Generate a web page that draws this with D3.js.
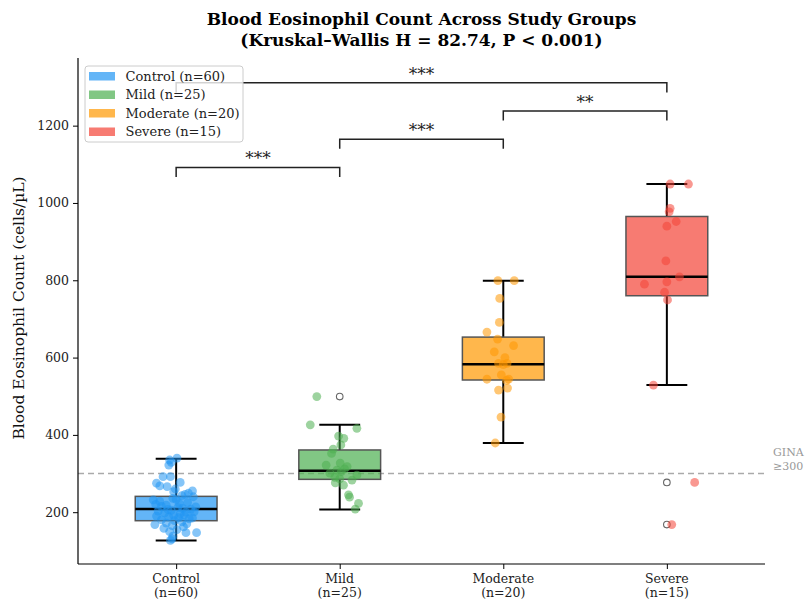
<!DOCTYPE html>
<html>
<head>
<meta charset="utf-8">
<script src="https://cdn.jsdelivr.net/npm/d3@7"></script>
<style>
  body { margin: 0; background: #fff; }
  svg { font-family: "DejaVu Serif", serif; }
</style>
</head>
<body>
<svg id="chart" width="807" height="603"></svg>
<script>
// Study groups and their sizes
const categories = ["Control", "Mild", "Moderate", "Severe"];
const groupSizes = [60, 25, 20, 15];
const groupColors = ["#2196F3", "#4CAF50", "#FF9800", "#F44336"];

// Box summary per group (cells/µL)
const q1Values = [178, 285, 542, 760];
const medianValues = [208, 307, 583, 809];
const q3Values = [241, 361, 653, 965];
const whiskerLow = [127, 207, 379, 529];
const whiskerHigh = [338, 426, 799, 1049];
const outlierValues = [[], [499], [], [277, 168]];

// Individual observations: [value, horizontal jitter in category units]
const controlPoints = [
  [340, 0.005], [335, -0.04], [322, -0.045], [329, -0.03], [292, -0.08], [292, -0.035],
  [275, -0.12], [268, -0.10], [266, -0.055], [277, 0.025], [253, -0.015], [249, 0.075],
  [240, 0.105], [232, -0.14], [236, -0.02], [243, 0.035], [225, 0.07], [222, 0.02],
  [218, -0.06], [215, -0.09], [212, 0.01], [210, 0.04], [208, 0.09], [205, -0.03],
  [203, -0.11], [200, 0.06], [198, -0.07], [196, 0.025], [193, 0.05], [190, -0.12],
  [188, -0.045], [186, 0.015], [183, 0.08], [180, -0.09], [178, -0.01], [175, 0.035],
  [172, -0.06], [170, 0.065], [168, -0.13], [165, -0.025], [162, 0.045], [158, -0.075],
  [155, 0.005], [150, -0.04], [147, 0.06], [147, 0.125], [138, -0.02], [127, -0.035],
  [131, -0.025], [255, 0.10], [260, -0.005], [228, -0.10], [246, 0.055], [214, 0.12],
  [220, -0.125], [201, 0.11], [185, 0.10], [192, -0.015], [207, -0.05], [233, 0.0]
];
const mildPoints = [
  [499, -0.14], [426, -0.18], [417, 0.105], [397, -0.007], [391, 0.025], [374, 0.007],
  [363, -0.04], [352, -0.05], [327, 0.003], [322, -0.083], [309, -0.017], [301, -0.06],
  [305, 0.01], [296, 0.105], [312, 0.03], [283, 0.075], [276, -0.027], [270, 0.023],
  [245, 0.054], [239, 0.06], [223, 0.115], [208, 0.095], [290, -0.03], [318, 0.045],
  [286, 0.0]
];
const moderatePoints = [
  [799, -0.033], [799, 0.067], [753, -0.022], [691, -0.024], [666, -0.10], [648, -0.035],
  [631, 0.063], [615, -0.055], [585, -0.029], [585, 0.023], [582, 0.0], [555, -0.012],
  [544, -0.10], [544, 0.033], [541, 0.02], [516, -0.029], [521, 0.026], [446, -0.014],
  [379, -0.049], [600, 0.01]
];
const severePoints = [
  [1049, 0.02], [1049, 0.132], [986, 0.02], [977, 0.014], [952, 0.057], [940, 0.0],
  [850, -0.006], [809, 0.077], [790, -0.137], [796, 0.0], [769, -0.014], [749, 0.004],
  [529, -0.082], [277, 0.17], [168, 0.03]
];
const groupPoints = [controlPoints, mildPoints, moderatePoints, severePoints];

// Pairwise significance: [from group, to group, bracket height, stars]
const comparisons = [
  [0, 1, 1092, "***"],
  [1, 2, 1165, "***"],
  [2, 3, 1238, "**"],
  [0, 3, 1311, "***"]
];
const yTicks = [200, 400, 600, 800, 1000, 1200];
const ginaThreshold = 300;

const svg = d3.select("#chart");
const plot = { left: 78, right: 765, top: 58, bottom: 564 };

const x = d3.scaleLinear().domain([-0.6, 3.6]).range([plot.left, plot.right]);
const y = d3.scaleLinear().domain([66, 1375]).range([plot.bottom, plot.top]);
const boxHalf = 0.25, capHalf = 0.125;

// GINA eosinophilic threshold
svg.append("line")
  .attr("x1", plot.left).attr("x2", plot.right)
  .attr("y1", y(ginaThreshold)).attr("y2", y(ginaThreshold))
  .attr("stroke", "#aaaaaa").attr("stroke-width", 1.4)
  .attr("stroke-dasharray", "6,4");
svg.append("text").attr("x", 773).attr("y", y(ginaThreshold) - 18)
  .attr("font-size", 11).attr("fill", "#999").text("GINA");
svg.append("text").attr("x", 773).attr("y", y(ginaThreshold) - 4)
  .attr("font-size", 11).attr("fill", "#999").text("≥300");

// Boxes
categories.forEach((c, i) => {
  const g = svg.append("g");
  // whiskers
  g.append("line").attr("x1", x(i)).attr("x2", x(i))
    .attr("y1", y(q3Values[i])).attr("y2", y(whiskerHigh[i]))
    .attr("stroke", "#000").attr("stroke-width", 2);
  g.append("line").attr("x1", x(i)).attr("x2", x(i))
    .attr("y1", y(q1Values[i])).attr("y2", y(whiskerLow[i]))
    .attr("stroke", "#000").attr("stroke-width", 2);
  [whiskerHigh[i], whiskerLow[i]].forEach(v => {
    g.append("line").attr("x1", x(i - capHalf)).attr("x2", x(i + capHalf))
      .attr("y1", y(v)).attr("y2", y(v))
      .attr("stroke", "#000").attr("stroke-width", 2);
  });
  // box
  g.append("rect")
    .attr("x", x(i - boxHalf)).attr("width", x(i + boxHalf) - x(i - boxHalf))
    .attr("y", y(q3Values[i])).attr("height", y(q1Values[i]) - y(q3Values[i]))
    .attr("fill", groupColors[i]).attr("fill-opacity", 0.7)
    .attr("stroke", "#555").attr("stroke-width", 1.5);
  // median
  g.append("line").attr("x1", x(i - boxHalf)).attr("x2", x(i + boxHalf))
    .attr("y1", y(medianValues[i])).attr("y2", y(medianValues[i]))
    .attr("stroke", "#000").attr("stroke-width", 2.5);
  // flier markers
  outlierValues[i].forEach(v => {
    g.append("circle").attr("cx", x(i)).attr("cy", y(v)).attr("r", 3.3)
      .attr("fill", "none").attr("stroke", "#666").attr("stroke-width", 1.1);
  });
});

// Jittered observations
groupPoints.forEach((pts, i) => {
  svg.append("g").selectAll("circle").data(pts).join("circle")
    .attr("cx", d => x(i + d[1]))
    .attr("cy", d => y(d[0]))
    .attr("r", 4.4)
    .attr("fill", groupColors[i])
    .attr("fill-opacity", 0.55);
});

// Significance brackets
const legH = 25;
comparisons.forEach(([a, b, h, stars]) => {
  svg.append("path")
    .attr("d", `M${x(a)},${y(h - legH)}V${y(h)}H${x(b)}V${y(h - legH)}`)
    .attr("fill", "none").attr("stroke", "#222").attr("stroke-width", 1.5);
  svg.append("text")
    .attr("x", (x(a) + x(b)) / 2).attr("y", y(h) - 3)
    .attr("text-anchor", "middle").attr("font-size", 17).attr("fill", "#222")
    .text(stars);
});

// Axes
const yAxis = svg.append("g").attr("transform", `translate(${plot.left},0)`)
  .call(d3.axisLeft(y).tickValues(yTicks).tickFormat(d3.format("d")).tickSize(5).tickPadding(4));
yAxis.select(".domain").attr("d", `M0,${plot.top}V${plot.bottom}`).attr("stroke-width", 1.2);
yAxis.selectAll("text").attr("font-size", 12.5).attr("font-family", "DejaVu Serif").attr("fill", "#222");

const xAxis = svg.append("g").attr("transform", `translate(0,${plot.bottom})`)
  .call(d3.axisBottom(x).tickValues(d3.range(categories.length)).tickSize(5).tickFormat(""));
xAxis.select(".domain").attr("d", `M${plot.left},0H${plot.right}`).attr("stroke-width", 1.2);
categories.forEach((c, i) => {
  const t = svg.append("text").attr("x", x(i)).attr("y", plot.bottom + 19)
    .attr("text-anchor", "middle").attr("font-size", 12.5).attr("fill", "#222");
  t.append("tspan").attr("x", x(i)).text(c);
  t.append("tspan").attr("x", x(i)).attr("dy", 14).text(`(n=${groupSizes[i]})`);
});

// Axis title
svg.append("text")
  .attr("transform", `translate(24,308) rotate(-90)`)
  .attr("text-anchor", "middle").attr("font-size", 15.5).attr("fill", "#111")
  .text("Blood Eosinophil Count (cells/µL)");

// Chart title
const title = svg.append("text").attr("x", (plot.left + plot.right) / 2)
  .attr("text-anchor", "middle").attr("font-size", 17).attr("font-weight", "bold").attr("fill", "#000");
title.append("tspan").attr("x", (plot.left + plot.right) / 2).attr("y", 25)
  .text("Blood Eosinophil Count Across Study Groups");
title.append("tspan").attr("x", (plot.left + plot.right) / 2).attr("y", 46)
  .text("(Kruskal–Wallis H = 82.74, P < 0.001)");

// Legend
const legend = svg.append("g").attr("transform", "translate(85,66)");
legend.append("rect").attr("width", 158).attr("height", 76).attr("rx", 3)
  .attr("fill", "#fff").attr("fill-opacity", 0.8)
  .attr("stroke", "#ccc").attr("stroke-width", 1);
categories.forEach((c, i) => {
  const row = legend.append("g").attr("transform", `translate(0,${10 + i * 18.5})`);
  row.append("rect").attr("x", 4).attr("y", -4).attr("width", 26).attr("height", 8.5)
    .attr("fill", groupColors[i]).attr("fill-opacity", 0.7);
  row.append("text").attr("x", 40.5).attr("y", 4.5).attr("font-size", 13).attr("fill", "#222")
    .text(`${c} (n=${groupSizes[i]})`);
});
</script>
</body>
</html>
